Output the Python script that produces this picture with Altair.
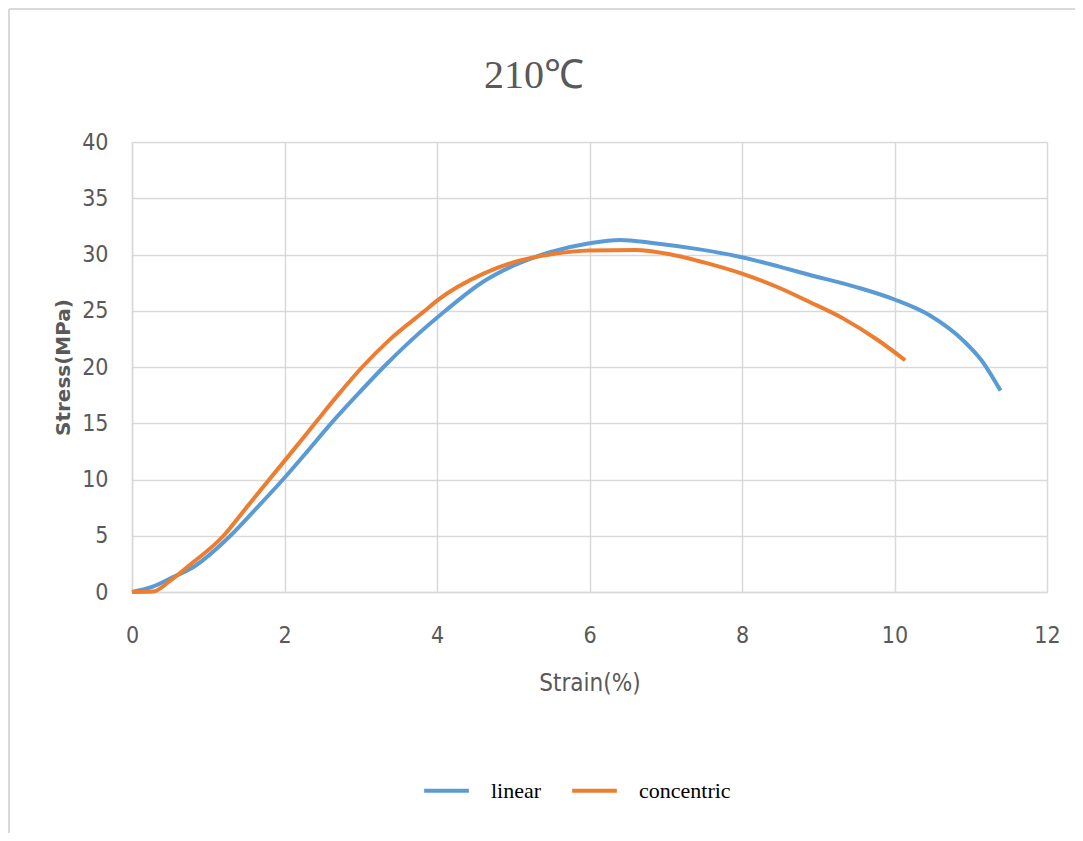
import altair as alt
import pandas as pd

linear_x = [0.0, 0.28, 0.5, 0.8, 1.29, 1.64, 1.98, 2.3, 2.6, 2.95, 3.3, 3.65, 4.11, 4.61, 5.0, 5.48, 6.0, 6.4, 6.85, 7.4, 8.0, 8.5, 8.88, 9.5, 10.0, 10.46, 10.91, 11.14, 11.39]
linear_y = [0.0, 0.5, 1.2, 2.2, 5.0, 7.5, 10.0, 12.5, 14.9, 17.5, 20.0, 22.3, 25.0, 27.6, 29.0, 30.2, 31.0, 31.3, 31.0, 30.5, 29.76, 28.9, 28.2, 27.1, 26.0, 24.6, 22.3, 20.6, 17.9]

conc_x = [0.0, 0.28, 0.5, 0.72, 1.2, 1.5, 1.8, 2.15, 2.4, 2.7, 3.02, 3.39, 3.84, 4.0, 4.61, 5.0, 5.48, 6.0, 6.6, 7.07, 7.5, 8.0, 8.5, 8.88, 9.33, 9.78, 10.14]
conc_y = [0.0, 0.05, 1.0, 2.2, 5.0, 7.5, 10.0, 12.9, 15.0, 17.5, 20.0, 22.5, 25.0, 25.9, 28.3, 29.3, 30.0, 30.36, 30.4, 30.0, 29.3, 28.3, 27.0, 25.8, 24.3, 22.4, 20.6]

series_names = ["linear", "concentric"]
colors = ["#5B9BD5", "#ED7D31"]
title_text = "210℃"

df = pd.concat([
    pd.DataFrame({"strain": linear_x, "stress": linear_y, "series": "linear", "order": range(len(linear_x))}),
    pd.DataFrame({"strain": conc_x, "stress": conc_y, "series": "concentric", "order": range(len(conc_x))}),
])

axis_font = "DejaVu Sans Condensed, Liberation Sans Narrow, DejaVu Sans, sans-serif"

lines = alt.Chart(df).mark_line(strokeWidth=4, interpolate="monotone").encode(
    x=alt.X("strain:Q", scale=alt.Scale(domain=[0, 12], nice=False),
            axis=alt.Axis(title="Strain(%)", values=[0, 2, 4, 6, 8, 10, 12], format="d",
                          grid=True, gridColor="#d9d9d9", gridWidth=1.5, labelFlush=False,
                          domain=True, domainColor="#d9d9d9", domainWidth=1.5, ticks=False,
                          labelFont=axis_font, labelFontSize=23, labelColor="#595959", labelPadding=32,
                          titleFont=axis_font, titleFontSize=24, titleColor="#595959",
                          titleFontWeight="normal", titlePadding=24)),
    y=alt.Y("stress:Q", scale=alt.Scale(domain=[0, 40], nice=False),
            axis=alt.Axis(title="Stress(MPa)", values=[0, 5, 10, 15, 20, 25, 30, 35, 40],
                          grid=True, gridColor="#d9d9d9", gridWidth=1.5, labelFlush=False,
                          domain=True, domainColor="#d9d9d9", domainWidth=1.5, ticks=False,
                          labelFont=axis_font, labelFontSize=23, labelColor="#595959", labelPadding=24,
                          titleFont="DejaVu Sans, sans-serif", titleFontSize=20, titleColor="#595959",
                          titleFontWeight="bold", titlePadding=8)),
    color=alt.Color("series:N", scale=alt.Scale(domain=series_names, range=colors),
                    legend=alt.Legend(title=None, orient="none", direction="horizontal",
                                      legendX=290, legendY=624, symbolType="stroke",
                                      symbolSize=2000, symbolStrokeWidth=4,
                                      labelFont="Liberation Serif, serif", labelFontSize=22,
                                      labelColor="#000000", columnPadding=22, labelOffset=20)),
    order="order:Q",
)

title = alt.Chart(pd.DataFrame({"t": [title_text]})).mark_text(
    font="Liberation Serif, serif", fontSize=40, color="#595959", align="center",
    baseline="alphabetic", clip=False
).encode(text="t:N", x=alt.value(402), y=alt.value(-54))

border = alt.Chart(pd.DataFrame({"k": [0]})).mark_rule(color="#d9d9d9", strokeWidth=2, clip=False).encode(
    x=alt.value(-123), x2=alt.value(960), y=alt.value(-133)
)
border2 = alt.Chart(pd.DataFrame({"k": [0]})).mark_rule(color="#d9d9d9", strokeWidth=2, clip=False).encode(
    x=alt.value(-123), y=alt.value(-133), y2=alt.value(720)
)

chart = alt.layer(border, border2, lines, title).properties(
    width=915, height=450,
    autosize=alt.AutoSizeParams(type="none"),
    padding={"left": 124, "top": 134, "right": 28, "bottom": 241},
).configure_view(stroke=None)

chart.save("out.html", embed_options={"renderer": "svg", "actions": False})
